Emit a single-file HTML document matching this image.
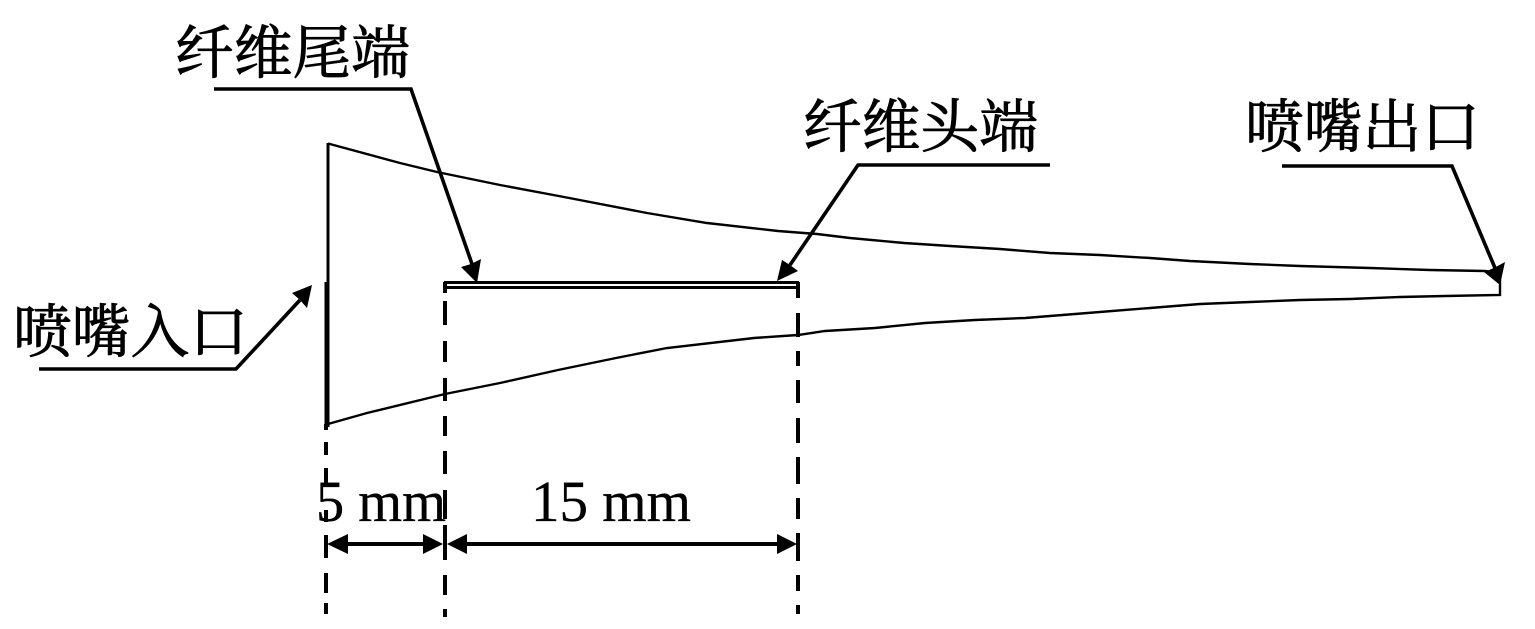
<!DOCTYPE html>
<html><head><meta charset="utf-8"><style>
html,body{margin:0;padding:0;background:#fff;width:1535px;height:629px;overflow:hidden}
svg{display:block}
text{fill:#000}
.c{font-family:"Liberation Serif","Noto Serif CJK SC",serif;font-size:58px;stroke:#000;stroke-width:.9px}
.m{font-family:"Liberation Serif",serif;font-size:58px;stroke:#000;stroke-width:.3px}
</style></head><body>
<svg width="1535" height="629" viewBox="0 0 1535 629" xmlns="http://www.w3.org/2000/svg">
<g fill="none" stroke="#000">
<polyline stroke-width="2.4" points="328,143.5 400,163 437,172 500,185 564,197 647,213 707,223 778,231 817,234 850,238 904,243 950,246 1000,249 1050,253 1100,255 1150,258 1190,261 1250,264 1300,266 1370,268 1430,270 1485,271 1500,273"/>
<polyline stroke-width="2.4" points="328,424 367,413 445,394 500,383 558,370 616,358 667,348 754,338 798,335 825,331 875,328 925,323 975,320 1025,318 1075,314 1150,308 1200,304 1250,302 1300,300 1350,299 1400,297 1445,296 1500,295 1500,275"/>
<path d="M328 143V285" stroke-width="3"/>
<path d="M327 282V427" stroke-width="5"/>
<path d="M444 282.5H799" stroke-width="3"/><path d="M445 287.5H798" stroke-width="3"/>
<path stroke-width="4" d="M445 282V293M445 301V325M445 341V362M445 378V401M445 416V436M445 451V474M445 490V519M445 525V560M445 575V595M445 609V617"/>
<path stroke-width="4" d="M798 282V298M798 313V337M798 351V366M798 380V403M798 418V443M798 457V484M798 498V519M798 533V561M798 575V591M798 605V614"/>
<path stroke-width="4" d="M326 424V430M326 442V455M326 468V487M326 510V522M326 535V558M326 573V593M326 603V614"/>
<path d="M340 544H430" stroke-width="4"/>
<path d="M460 544H785" stroke-width="4"/>
<path d="M214 89H411L472 264" stroke-width="3.6"/>
<path d="M1050 165H858L790 265" stroke-width="3.6"/>
<path d="M1282 166H1452L1495 268" stroke-width="3.6"/>
<path d="M39 369H236L300 300" stroke-width="3.6"/>
</g>
<g fill="#000">
<polygon points="327,544 348,534 348,554"/>
<polygon points="443,544 423,534 423,554"/>
<polygon points="447,544 467,534 467,554"/>
<polygon points="797,544 777,534 777,554"/>
<polygon points="477,283 461,267 471,264 481,259"/>
<polygon points="777,281 782,260 790,265 798,271"/>
<polygon points="1500,285 1484,272 1494,268 1505,262"/>
<polygon points="312,285 292,293 300,300 307,308"/>
</g>
<text class="c" x="175" y="73" textLength="235" lengthAdjust="spacingAndGlyphs">纤维尾端</text>
<text class="c" x="803" y="147" textLength="235" lengthAdjust="spacingAndGlyphs">纤维头端</text>
<text class="c" x="1245" y="147" textLength="235" lengthAdjust="spacingAndGlyphs">喷嘴出口</text>
<text class="c" x="13" y="352" textLength="235" lengthAdjust="spacingAndGlyphs">喷嘴入口</text>
<text class="m" x="316" y="521" textLength="130" lengthAdjust="spacingAndGlyphs">5 mm</text>
<text class="m" x="531" y="521" textLength="160" lengthAdjust="spacingAndGlyphs">15 mm</text>
</svg>
</body></html>
